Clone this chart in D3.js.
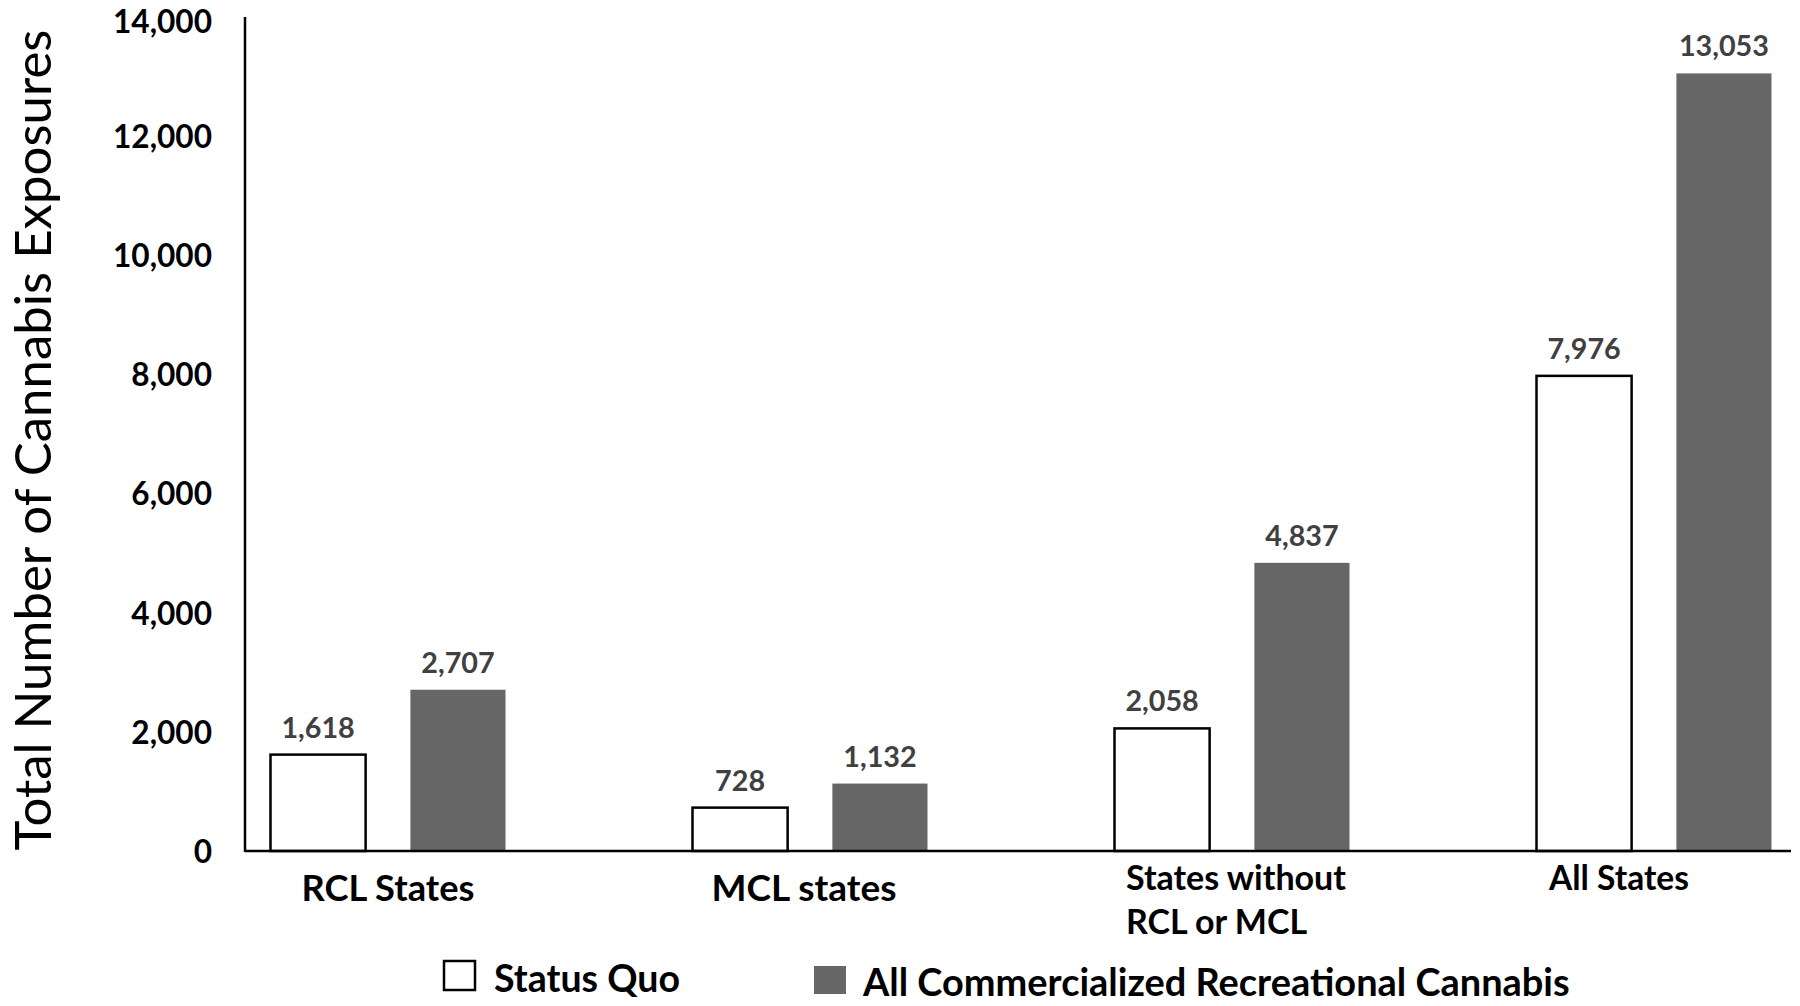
<!DOCTYPE html>
<html><head><meta charset="utf-8">
<script src="https://cdn.jsdelivr.net/npm/d3@7"></script>
<style>
html,body{margin:0;padding:0;background:#fff;}
svg{display:block;font-family:Lato,"Open Sans",sans-serif;}
</style></head>
<body><svg id="chart" width="1800" height="1006"></svg>
<script>
// ---- data ----
const categories = ["RCL States", "MCL states", "States without RCL or MCL", "All States"];
const categoryLines = [["RCL States"], ["MCL states"], ["States without", "RCL or MCL"], ["All States"]];
const seriesNames = ["Status Quo", "All Commercialized Recreational Cannabis"];
const statusQuo = [1618, 728, 2058, 7976];
const allCommercialized = [2707, 1132, 4837, 13053];
const yTicks = [0, 2000, 4000, 6000, 8000, 10000, 12000, 14000];
const yTitle = "Total Number of Cannabis Exposures";

// ---- layout ----
const svg = d3.select("#chart");
const axisX = 245, baseY = 851, topY = 17, axisRight = 1791;
const colors = ["#ffffff", "#666666"];
const y = d3.scaleLinear().domain([0, 14000]).range([baseY, topY]);
const x0 = d3.scaleBand().domain(categories).range([177, 1865]).paddingInner(0).paddingOuter(0);
const x1 = d3.scaleBand().domain(seriesNames).range([-117.5, 117.5]).paddingInner(0.32);
const values = [statusQuo, allCommercialized];

function fit(sel, target) {
  sel.each(function () {
    const t = d3.select(this);
    const fs = parseFloat(t.attr("font-size"));
    const w = this.getComputedTextLength();
    if (w > 0) t.attr("font-size", (fs * target / w).toFixed(2));
  });
}

// bars
const rows = categories.map((c, i) => ({ c, vals: seriesNames.map((s, j) => ({ s, j, v: values[j][i] })) }));
const g = svg.append("g");
const grp = g.selectAll("g.grp").data(rows).join("g")
  .attr("transform", d => `translate(${x0(d.c) + x0.bandwidth() / 2},0)`);
grp.selectAll("rect").data(d => d.vals).join("rect")
  .attr("x", d => x1(d.s))
  .attr("width", x1.bandwidth())
  .attr("y", d => y(d.v))
  .attr("height", d => y(0) - y(d.v))
  .attr("fill", d => colors[d.j])
  .attr("stroke", d => d.j === 0 ? "#000" : "none")
  .attr("stroke-width", 2.5);

// data labels
grp.selectAll("text.val").data(d => d.vals).join("text")
  .attr("class", "val")
  .attr("x", d => x1(d.s) + x1.bandwidth() / 2)
  .attr("y", d => y(d.v) - 17)
  .attr("text-anchor", "middle")
  .attr("font-weight", "bold")
  .attr("fill", "#404040")
  .attr("font-size", 26)
  .text(d => d3.format(",")(d.v));
{
  const probe = svg.append("text").attr("font-weight", "bold").attr("font-size", 26).text("13,053");
  const w = probe.node().getComputedTextLength(); probe.remove();
  svg.selectAll("text.val").attr("font-size", (26 * 90 / w).toFixed(2));
}

// axes lines
svg.append("line").attr("x1", axisX).attr("x2", axisX).attr("y1", topY).attr("y2", baseY + 1)
  .attr("stroke", "#000").attr("stroke-width", 2.5);
svg.append("line").attr("x1", axisX).attr("x2", axisRight).attr("y1", baseY).attr("y2", baseY)
  .attr("stroke", "#000").attr("stroke-width", 2.5);

// y axis tick labels via d3 axis
const yAxis = d3.axisLeft(y).tickValues(yTicks).tickFormat(d3.format(",")).tickSize(0).tickPadding(0);
const ya = svg.append("g").attr("transform", `translate(212,0)`).call(yAxis);
ya.select(".domain").remove();
ya.selectAll("text").attr("font-family", "Lato, 'Open Sans', sans-serif").attr("font-weight", "bold")
  .attr("fill", "#000").attr("font-size", 28).attr("dy", d => d === 14000 ? "0.48em" : "0.36em");
{
  const probe = svg.append("text").attr("font-weight", "bold").attr("font-size", 28).text("14,000");
  const w = probe.node().getComputedTextLength(); probe.remove();
  ya.selectAll("text").attr("font-size", (28 * 99 / w).toFixed(2));
}

// category labels
const catLayout = [
  { dx: 0, y: 901, anchor: "middle", w: 173 },
  { dx: -6, y: 901, anchor: "middle", w: 185 },
  { dx: -106, y: 890, anchor: "start", w: 220, lh: 44 },
  { dx: -35, y: 890, anchor: "middle", w: 140 }
];
categories.forEach((c, i) => {
  const L = catLayout[i];
  const cx = x0(c) + x0.bandwidth() / 2 + L.dx;
  const lines = categoryLines[i];
  const t = svg.append("text").attr("font-weight", "bold").attr("font-size", 28).attr("fill", "#000")
    .attr("text-anchor", L.anchor);
  lines.forEach((ln, k) => {
    t.append("tspan").attr("x", cx).attr("y", L.y + k * (L.lh || 0)).text(ln);
  });
  const w = t.select("tspan").node().getComputedTextLength();
  t.attr("font-size", (28 * L.w / w).toFixed(2));
});

// y title
{
  const t = svg.append("text").attr("transform", "translate(31,440) rotate(-90)")
    .attr("text-anchor", "middle").attr("dominant-baseline", "central")
    .attr("font-size", 46).attr("fill", "#000").text(yTitle);
  fit(t, 821);
}

// legend
const legendLayout = [
  { bx: 444, by: 961, bw: 31, bh: 29, tx: 494, ty: 977, w: 186 },
  { bx: 814, by: 966, bw: 32, bh: 28, tx: 863, ty: 981, w: 707 }
];
seriesNames.forEach((s, j) => {
  const L = legendLayout[j];
  svg.append("rect").attr("x", L.bx).attr("y", L.by).attr("width", L.bw).attr("height", L.bh)
    .attr("fill", colors[j]).attr("stroke", j === 0 ? "#000" : "none").attr("stroke-width", 2.5);
  const t = svg.append("text").attr("x", L.tx).attr("y", L.ty).attr("dominant-baseline", "central")
    .attr("font-weight", "bold").attr("font-size", 30).attr("fill", "#000").text(s);
  fit(t, L.w);
});
</script></body></html>
